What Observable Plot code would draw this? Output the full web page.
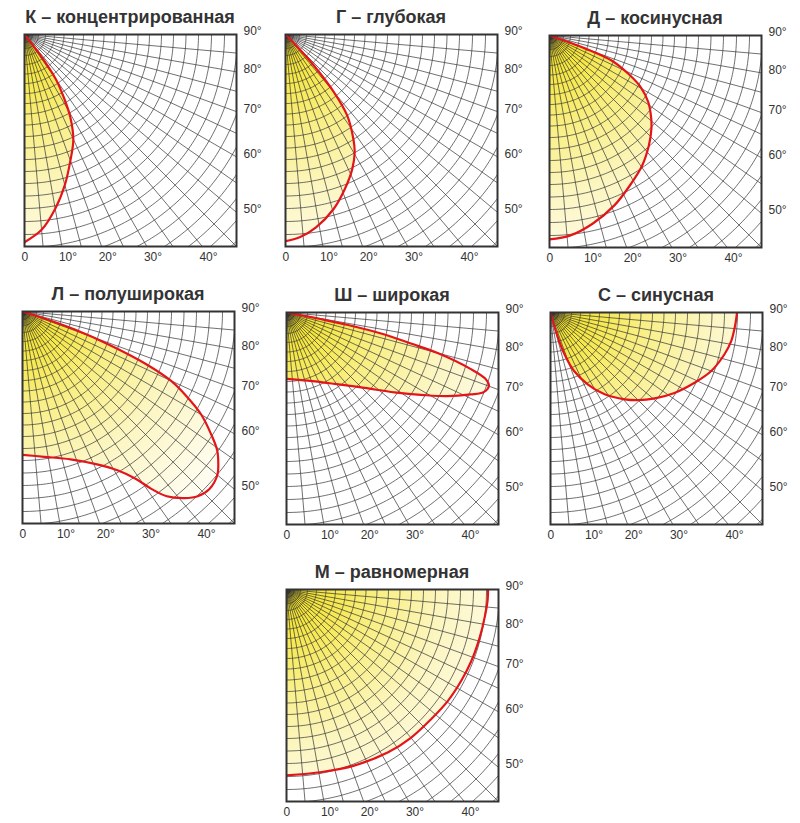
<!DOCTYPE html>
<html><head><meta charset="utf-8">
<script src="https://cdn.jsdelivr.net/npm/d3@7"></script>
<script src="https://cdn.jsdelivr.net/npm/@observablehq/plot@0.6"></script>
<style>
body{margin:0;background:#fff;}
#root{position:relative;width:800px;height:823px;font-family:"Liberation Sans",Arial,sans-serif;}
.title{position:absolute;width:300px;text-align:center;font-weight:bold;font-size:18px;color:#333;line-height:22px;white-space:nowrap;}
.panel{position:absolute;}
</style></head><body><div id="root"></div>
<script>
// ---- panels ----
const panelNames = ["К – концентрированная","Г – глубокая","Д – косинусная","Л – полуширокая","Ш – широкая","С – синусная","М – равномерная"];
const panelIds = ["K","G","D","L","SH","S","M"];
const panelLefts = [24,285,549,22,286,550,286];
const panelTops = [34,34,35,311,312,312,589];

// ---- intensity curves: angle from nadir (deg) and relative radius ----
const angK = [0,5,10,15,20,25,29,32,35,37.5,38.5];
const intK = [0.98,0.925,0.835,0.735,0.633,0.545,0.446,0.35,0.26,0.12,0];
const angG = [0,4,9,15.5,21,26.5,30.5,33,37.3,40,42.4,44,45];
const intG = [0.975,0.959,0.921,0.853,0.781,0.707,0.643,0.588,0.48,0.355,0.2,0.09,0];
const angD = [0,6,13,21,28,35.5,42,47.5,51,56,60.5,64,68,70,71.5];
const intD = [0.962,0.948,0.91,0.857,0.804,0.753,0.70,0.652,0.617,0.562,0.494,0.415,0.318,0.181,0];
const angL = [0,8.5,18,26,31,34,36,38,41,43.5,46.5,50,52,54.5,57,60,62.5,65,67,69,71,72,72.5];
const intL = [0.676,0.693,0.733,0.802,0.875,0.95,1.034,1.106,1.166,1.201,1.216,1.2,1.172,1.128,1.06,0.974,0.878,0.772,0.63,0.44,0.258,0.141,0];
const angSH = [0,17.5,34,46,53.5,59,62.5,66,68,70,71.5,73,75,76,77.5,78.5,79,79.5];
const intSH = [0.313,0.337,0.406,0.512,0.633,0.756,0.854,0.95,1.003,1.016,0.991,0.905,0.738,0.605,0.457,0.296,0.168,0];
const angS = [14,15.5,16.5,18.5,22,27.5,33.5,40.5,45,50.5,57,64,70,76.5,81,86,90];
const intS = [0,0.059,0.124,0.209,0.299,0.383,0.463,0.539,0.585,0.637,0.697,0.756,0.807,0.844,0.863,0.873,0.88];
const angM = [0,11,21,32,40,48,55.5,62.5,69,76,82,87,90];
const intM = [0.877,0.877,0.89,0.905,0.913,0.916,0.925,0.93,0.935,0.939,0.944,0.95,0.951];
const curveAngles = [angK,angG,angD,angL,angSH,angS,angM];
const curveValues = [intK,intG,intD,intL,intSH,intS,intM];

// ---- grid & ticks ----
const radialAngles = [0,5,10,15,20,25,30,35,40,45,50,55,60,65,70,75,80,85,90];
const arcRadiiPx = [4,8,14,21,30,39.5,49,59,69,79.5,90.5,102,113.5,125,137,149,161.5,174,187,200,213,226.5,240,254,268,282,296,310];
const boxPx = 212;
const rightTicks = [90,80,70,60,50];
const bottomTicks = [0,10,20,30,40];

const rad = d => d * Math.PI / 180;
const pt = (a, r) => ({x: r * Math.sin(rad(a)), y: r * Math.cos(rad(a))});

const radialData = radialAngles.flatMap(a => [{...pt(a,0), z:a}, {...pt(a,1.6), z:a}]);
const arcData = arcRadiiPx.flatMap(rp => d3.range(0, 90.01, 1).map(a => ({...pt(a, rp/boxPx), z:rp})));
const rightData = rightTicks.map(a => ({x:1, y: a === 90 ? 0 : 1/Math.tan(rad(a)), t: a + "°"}));
const bottomData = bottomTicks.map(a => ({x: Math.tan(rad(a)), y:1, t: a === 0 ? "0" : a + "°"}));

const mL = 10, mR = 36, mT = 8, mB = 22;
const root = document.getElementById("root");

panelIds.forEach((id, i) => {
  const curve = curveAngles[i].map((a, j) => pt(a, curveValues[i][j]));
  const tri = [{x:0,y:0}, curve[0], curve[curve.length-1]];
  const gid = "grad-" + id;
  const url = `url(#${gid})`;
  const defsMark = (index, scales) => {
    const ns = "http://www.w3.org/2000/svg";
    const defs = document.createElementNS(ns, "defs");
    const g = document.createElementNS(ns, "radialGradient");
    g.setAttribute("id", gid);
    g.setAttribute("gradientUnits", "userSpaceOnUse");
    g.setAttribute("cx", scales.x(0));
    g.setAttribute("cy", scales.y(0));
    g.setAttribute("r", scales.x(1.25) - scales.x(0));
    [[0,"#f3df10"],[0.12,"#f5e63c"],[0.35,"#f9ef85"],[0.6,"#fcf6c2"],[0.85,"#fefbe5"],[1,"#fffef7"]].forEach(([o,c]) => {
      const s = document.createElementNS(ns, "stop");
      s.setAttribute("offset", o); s.setAttribute("stop-color", c);
      g.appendChild(s);
    });
    defs.appendChild(g);
    return defs;
  };
  const chart = Plot.plot({
    width: boxPx + mL + mR,
    height: boxPx + mT + mB,
    marginLeft: mL, marginRight: mR, marginTop: mT, marginBottom: mB,
    x: {domain: [0,1], axis: null},
    y: {domain: [0,1], reverse: true, axis: null},
    style: {background: "transparent", overflow: "visible", fontFamily: "Liberation Sans, Arial, sans-serif"},
    marks: [
      defsMark,
      Plot.line(curve, {x:"x", y:"y", curve:"catmull-rom", fill:url, stroke:"none", clip:true}),
      Plot.line(tri, {x:"x", y:"y", fill:url, stroke:"none", clip:true}),
      Plot.line(radialData, {x:"x", y:"y", z:"z", stroke:"#333", strokeWidth:0.7, clip:true}),
      Plot.line(arcData, {x:"x", y:"y", z:"z", stroke:"#333", strokeWidth:0.7, clip:true}),
      Plot.line(curve, {x:"x", y:"y", curve:"catmull-rom", stroke:"#e3151a", strokeWidth:2.2, clip:true}),
      Plot.frame({stroke:"#333", strokeWidth:2}),
      Plot.text(rightData, {x:"x", y:"y", text:"t", textAnchor:"start", dx:7, dy:-3, fontSize:12, fill:"#333"}),
      Plot.text(bottomData, {x:"x", y:"y", text:"t", textAnchor:"start", dx:-3, dy:11, fontSize:12, fill:"#333"})
    ]
  });
  const wrap = document.createElement("div");
  wrap.className = "panel";
  wrap.style.left = (panelLefts[i] - mL) + "px";
  wrap.style.top = (panelTops[i] - mT) + "px";
  wrap.appendChild(chart);
  root.appendChild(wrap);
  const t = document.createElement("div");
  t.className = "title";
  t.textContent = panelNames[i];
  t.style.left = (panelLefts[i] + boxPx/2 - 150) + "px";
  t.style.top = (panelTops[i] - 28) + "px";
  root.appendChild(t);
});
</script></body></html>
